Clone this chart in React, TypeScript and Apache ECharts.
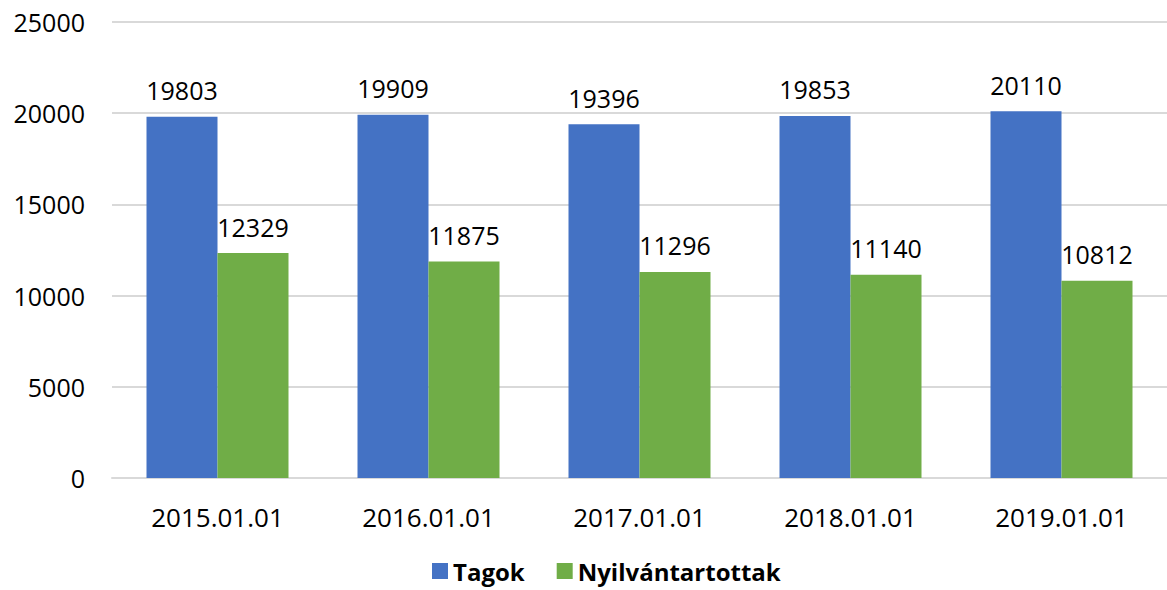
import React, { useEffect, useRef } from "react";
import * as echarts from "echarts";

const categories = ["2015.01.01", "2016.01.01", "2017.01.01", "2018.01.01", "2019.01.01"];
const tagok = [19803, 19909, 19396, 19853, 20110];
const nyilvantartottak = [12329, 11875, 11296, 11140, 10812];
const seriesNames = ["Tagok", "Nyilvántartottak"];

const FONT = "'Open Sans', 'Liberation Sans', sans-serif";

export default function App() {
  const ref = useRef<HTMLDivElement>(null);
  useEffect(() => {
    if (!ref.current) return;
    const chart = echarts.init(ref.current, undefined, { renderer: "svg" });
    const label = {
      show: true,
      position: "top",
      distance: 14,
      color: "#000",
      fontSize: 25,
      fontFamily: FONT,
    };
    chart.setOption({
      animation: false,
      textStyle: { fontFamily: FONT },
      grid: { left: 112, right: -6, top: 22, bottom: 112, containLabel: false },
      legend: {
        bottom: 2,
        left: 427,
        itemWidth: 16,
        itemHeight: 16,
        itemGap: 32,
        icon: "rect",
        textStyle: { fontSize: 24, fontWeight: "bold", color: "#000", fontFamily: FONT },
        data: seriesNames,
      },
      xAxis: {
        type: "category",
        data: categories,
        axisLine: { show: true, lineStyle: { color: "#D9D9D9", width: 2 } },
        axisTick: { show: false },
        axisLabel: { fontSize: 26, color: "#000", margin: 26, fontFamily: FONT },
      },
      yAxis: {
        type: "value",
        min: 0,
        max: 25000,
        interval: 5000,
        axisLine: { show: false },
        axisTick: { show: false },
        splitLine: { lineStyle: { color: "#D9D9D9", width: 2 } },
        axisLabel: {
          fontSize: 25,
          color: "#000",
          margin: 27,
          fontFamily: FONT,
          formatter: (v: number) => String(v),
        },
      },
      series: [
        {
          name: seriesNames[0],
          type: "bar",
          data: tagok,
          barWidth: 71,
          barGap: "0%",
          itemStyle: { color: "#4472C4" },
          label,
        },
        {
          name: seriesNames[1],
          type: "bar",
          data: nyilvantartottak,
          barWidth: 71,
          barGap: "0%",
          itemStyle: { color: "#70AD47" },
          label,
        },
      ],
    });
    return () => chart.dispose();
  }, []);
  return <div ref={ref} style={{ width: 1167, height: 590, position: "absolute", left: 0, top: 0 }} />;
}
